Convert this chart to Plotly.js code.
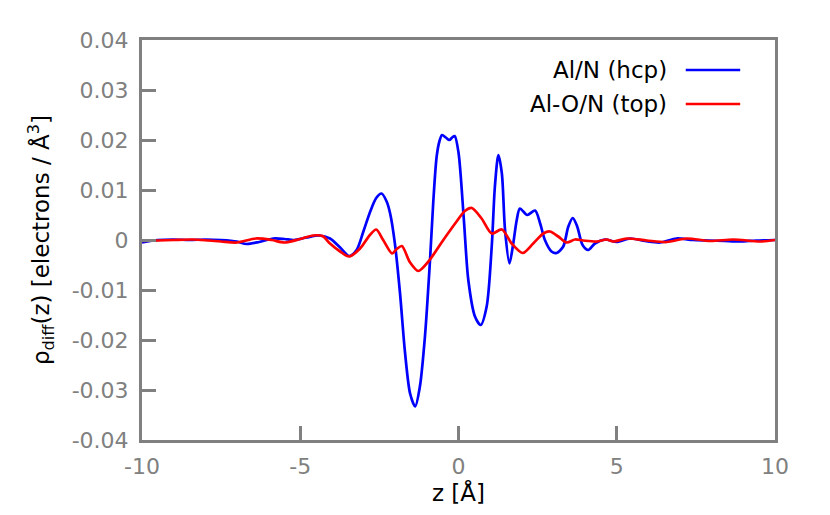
<!DOCTYPE html>
<html>
<head>
<meta charset="utf-8">
<script src="https://cdn.plot.ly/plotly-3.0.1.min.js"></script>
<style>html,body{margin:0;padding:0;background:#fff;}#chart{width:830px;height:515px;}</style>
</head>
<body>
<div id="chart"></div>
<script>
// Al/N (hcp)
const zHcp = [-10, -9.5, -9, -8.5, -8, -7.5, -7, -6.7, -6.3, -5.85, -5.5, -5.2, -4.8, -4.4, -4.06, -3.74, -3.45, -3.22, -3.0, -2.8, -2.6, -2.43, -2.27, -2.16, -2.01, -1.85, -1.69, -1.53, -1.37, -1.22, -1.06, -0.9, -0.8, -0.69, -0.6, -0.52, -0.4, -0.29, -0.2, -0.12, 0.0, 0.17, 0.31, 0.52, 0.7, 0.89, 1.05, 1.15, 1.26, 1.37, 1.47, 1.61, 1.73, 1.84, 1.94, 2.17, 2.42, 2.58, 2.73, 2.94, 3.1, 3.31, 3.47, 3.61, 3.75, 3.92, 4.1, 4.31, 4.63, 5.0, 5.42, 5.9, 6.37, 6.89, 7.4, 7.9, 8.4, 8.9, 9.4, 10];
const rhoHcp = [-0.0005, 0.0, 0.0001, 0.0, 0.0001, 0.0, -0.0003, -0.0008, -0.0004, 0.0003, 0.0002, 0.0, 0.0005, 0.0009, 0.0003, -0.0015, -0.0032, -0.002, 0.0018, 0.0055, 0.0084, 0.0093, 0.0077, 0.0053, -0.0007, -0.0105, -0.0225, -0.0307, -0.0333, -0.0293, -0.0193, -0.004, 0.0073, 0.0167, 0.0198, 0.021, 0.0205, 0.0200, 0.0205, 0.0208, 0.0175, 0.004, -0.008, -0.0153, -0.017, -0.0133, -0.0013, 0.0107, 0.017, 0.0133, 0.002, -0.0047, -0.0007, 0.004, 0.0063, 0.0050, 0.0059, 0.0033, 0.0, -0.0023, -0.0026, -0.0013, 0.0027, 0.0044, 0.0027, -0.001, -0.002, -0.0007, 0.0001, -0.0004, 0.0003, -0.0002, -0.0005, 0.0003, 0.0, -0.0001, -0.0002, -0.0003, -0.0001, 0.0];

// Al-O/N (top)
const zTop = [-10, -9.5, -9, -8.4, -7.9, -7.5, -7.0, -6.4, -5.9, -5.5, -5.0, -4.6, -4.3, -4.06, -3.74, -3.45, -3.11, -2.8, -2.6, -2.38, -2.1, -1.95, -1.79, -1.53, -1.27, -0.95, -0.48, -0.06, 0.2, 0.42, 0.73, 1.05, 1.37, 1.68, 2.03, 2.36, 2.68, 2.89, 3.15, 3.42, 3.68, 3.94, 4.37, 4.68, 4.89, 5.31, 5.95, 6.58, 7.21, 7.95, 8.68, 9.53, 10];
const rhoTop = [-0.0002, -0.0001, 0.0, 0.0001, -0.0001, -0.0003, -0.0005, 0.0003, 0.0, -0.0005, 0.0002, 0.0009, 0.0008, -0.0007, -0.0023, -0.0033, -0.0017, 0.001, 0.0021, 0.0, -0.0027, -0.0018, -0.0012, -0.0045, -0.0062, -0.0043, 0.0, 0.0037, 0.0058, 0.0064, 0.0043, 0.0013, 0.0021, -0.0007, -0.0026, -0.0007, 0.0013, 0.0017, 0.0007, -0.0005, 0.0001, -0.0001, -0.0003, 0.0001, -0.0003, 0.0003, -0.0001, -0.0004, 0.0003, -0.0002, 0.0001, -0.0003, 0.0];

const seriesNames = ["Al/N (hcp)", "Al-O/N (top)"];
const seriesColors = ["#0000ff", "#ff0000"];

const xTickVals = [-10, -5, 0, 5, 10];
const xTickText = ["-10", "-5", "0", "5", "10"];
const yTickVals = [-0.04, -0.03, -0.02, -0.01, 0, 0.01, 0.02, 0.03, 0.04];
const yTickText = ["-0.04", "-0.03", "-0.02", "-0.01", "0", "0.01", "0.02", "0.03", "0.04"];

const FONT = "DejaVu Sans, sans-serif";
const GRAY = "#808080";

const traces = [
  {x: zHcp, y: rhoHcp, name: seriesNames[0], mode: "lines", line: {color: seriesColors[0], width: 2.7, shape: "spline", smoothing: 0.8}},
  {x: zTop, y: rhoTop, name: seriesNames[1], mode: "lines", line: {color: seriesColors[1], width: 2.7, shape: "spline", smoothing: 0.8}}
];

// manual legend: text on the left, line sample on the right
const legY = [0.925, 0.84];
const annotations = seriesNames.map((n, i) => ({
  xref: "paper", yref: "paper", x: 0.832, y: legY[i], xanchor: "right", yanchor: "middle",
  text: n, showarrow: false, font: {family: FONT, size: 23, color: "#000"}
}));
const shapes = seriesNames.map((n, i) => ({
  type: "line", xref: "paper", yref: "paper", x0: 0.859, x1: 0.945, y0: legY[i], y1: legY[i],
  line: {color: seriesColors[i], width: 2.7}
}));

const layout = {
  width: 830, height: 515,
  margin: {l: 142, r: 55, t: 40, b: 75},
  paper_bgcolor: "#fff", plot_bgcolor: "#fff",
  showlegend: false,
  font: {family: FONT, size: 22, color: GRAY},
  xaxis: {
    range: [-10, 10], tickmode: "array", tickvals: xTickVals, ticktext: xTickText,
    showgrid: false, zeroline: false, showline: true, mirror: true, linecolor: GRAY, linewidth: 3,
    ticks: "inside", ticklen: 14, tickwidth: 3, tickcolor: GRAY,
    tickfont: {family: FONT, size: 22, color: GRAY}, ticklabelstandoff: 5,
    title: {text: "z [Å]", font: {family: FONT, size: 23, color: "#000"}, standoff: 2}
  },
  yaxis: {
    range: [-0.04, 0.04], tickmode: "array", tickvals: yTickVals, ticktext: yTickText,
    showgrid: false, zeroline: false, showline: true, mirror: true, linecolor: GRAY, linewidth: 3,
    ticks: "inside", ticklen: 14, tickwidth: 3, tickcolor: GRAY,
    tickfont: {family: FONT, size: 22, color: GRAY}, ticklabelstandoff: 6,
    title: {text: "ρ<sub>diff</sub>(z) [electrons / Å<sup>3</sup>]", font: {family: FONT, size: 23, color: "#000"}, standoff: 16}
  },
  annotations: annotations,
  shapes: shapes
};

Plotly.newPlot("chart", traces, layout, {displayModeBar: false, staticPlot: true});
</script>
</body>
</html>
